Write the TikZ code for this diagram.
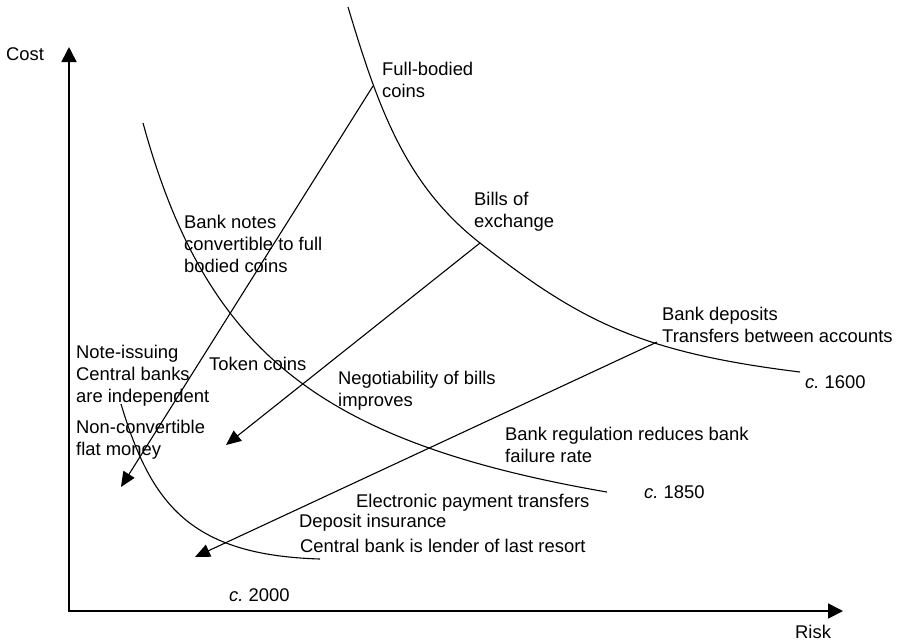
\documentclass[tikz,border=0pt]{standalone}
\usepackage{fontspec}
\setmainfont{Liberation Sans}
\usetikzlibrary{arrows.meta}
\begin{document}
\begin{tikzpicture}[x=1pt,y=-1pt,
  axisline/.style={line width=1.6pt, {Triangle[length=15pt,width=15pt]}-{Triangle[length=15pt,width=15pt]}},
  curve/.style={line width=1.1pt},
  shiftarrow/.style={line width=1.1pt, -{Triangle[length=15pt,width=13pt]}},
  lbl/.style={anchor=base west, inner sep=0pt, align=left,
              font=\fontsize{18.4}{22}\selectfont},
]
\fill[white] (0,0) rectangle (901,641);
\useasboundingbox (0,0) rectangle (901,641);

% axes
\coordinate (origin) at (69,611);
\coordinate (ytip) at (69,47);
\coordinate (xtip) at (843,611);
\draw[axisline] (ytip) -- (origin) -- (xtip);

% points where the innovations leave the older curves, and where they arrive
\coordinate (coins) at (373,86);
\coordinate (coinsend) at (121,487);
\coordinate (bills) at (480,243);
\coordinate (billsend) at (226,445);
\coordinate (deposits) at (657,342);
\coordinate (depositsend) at (195,557);

% iso-cost curves: c. 1600
\draw[curve] (348,7) .. controls (378,107) and (405,184.5) .. (bills)
             .. controls (580,321) and (640,352.3) .. (800,372);
% c. 1850 (a hyperbola, scaled down to keep the numbers small)
\draw[curve] plot[domain=143:607, samples=160] (\x, {594.8 - 609.52/((\x - 13.8)/100)});
% c. 2000
\draw[curve] (121,404) .. controls (151,504) and (190,555.1) .. (320,559);

% innovations moving towards lower cost and risk
\draw[shiftarrow] (coins) -- (coinsend);
\draw[shiftarrow] (bills) -- (billsend);
\draw[shiftarrow] (deposits) -- (depositsend);

% labels (anchored at the baseline of their last line)
\node[lbl] (cost) at (6,60) {Cost};
\node[lbl] (risk) at (795,638) {Risk};
\node[lbl] (fullbodied) at (382,97) {Full-bodied\\coins};
\node[lbl] (billsx) at (474,227) {Bills of\\exchange};
\node[lbl] (banknotes) at (184,272) {Bank notes\\convertible to full\\bodied coins};
\node[lbl] (bankdep) at (662,342) {Bank deposits\\Transfers between accounts};
\node[lbl] (noteissuing) at (76,402) {Note-issuing\\Central banks\\are independent};
\node[lbl] (nonconv) at (76,455) {Non-convertible\\flat money};
\node[lbl] (token) at (209,370) {Token coins};
\node[lbl] (negot) at (338,406) {Negotiability of bills\\improves};
\node[lbl] (regul) at (505,462) {Bank regulation reduces bank\\failure rate};
\node[lbl] (y1600) at (805,388) {\textit{c.}\ 1600};
\node[lbl] (y1850) at (644,498) {\textit{c.}\ 1850};
\node[lbl] (y2000) at (229,601) {\textit{c.}\ 2000};
\node[lbl] (electronic) at (356,507) {Electronic payment transfers};
\node[lbl] (insurance) at (299,527) {Deposit insurance};
\node[lbl] (lender) at (300,552) {Central bank is lender of last resort};
\end{tikzpicture}
\end{document}
